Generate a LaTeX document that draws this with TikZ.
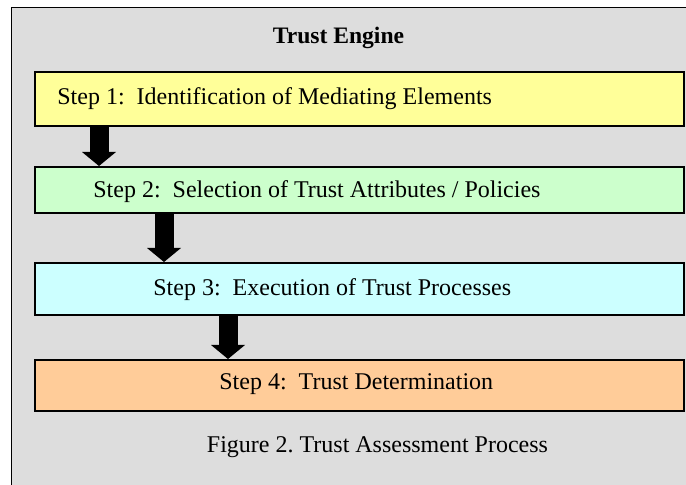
\documentclass[tikz,border=0pt]{standalone}
\usepackage{fontspec}
\setmainfont{Liberation Serif}
\usepackage{tikz}
\usetikzlibrary{arrows.meta,positioning}

\definecolor{panelgray}{HTML}{DDDDDD}
\definecolor{stepyellow}{HTML}{FFFF99}
\definecolor{stepgreen}{HTML}{CCFFCC}
\definecolor{stepcyan}{HTML}{CCFFFF}
\definecolor{steporange}{HTML}{FFCC99}

\tikzset{
  stepbox/.style={draw=black, line width=1pt, minimum width=324.5pt, inner sep=0pt},
  steptext/.style={anchor=west, inner sep=0pt, font=\fontsize{12}{14}\selectfont},
  flow/.style={line width=9.5pt, -{Triangle[length=7pt,width=17pt,line width=0pt]}},
}

\begin{document}
\begin{tikzpicture}[x=0.5pt,y=-0.5pt]
  \useasboundingbox (0,0) rectangle (686,485);
  % grey panel, only its top and left edges are in view
  \fill[white] (0,0) rectangle (686,485);
  \fill[panelgray] (11.5,7.5) rectangle (686,485);
  \draw[line width=0.8pt] (11.5,485) -- (11.5,7.5) -- (686,7.5);
  \node[font=\bfseries\fontsize{11.8}{14}\selectfont] (title) at (338.5,38) {Trust Engine};

  % the four steps (boxes, then their texts)
  \node[stepbox, fill=stepyellow, minimum height=27pt] (step1) at (359.5,99) {};
  \node[stepbox, fill=stepgreen, minimum height=23pt] (step2) at (359.5,190) {};
  \node[stepbox, fill=stepcyan, minimum height=26pt] (step3) at (359.5,289) {};
  \node[stepbox, fill=steporange, minimum height=25.5pt] (step4) at (359.5,385.5) {};
  \node[steptext] (text1) at (57,98.5) {Step 1:\ \ Identification of Mediating Elements};
  \node[steptext] (text2) at (93,192) {Step 2:\ \ Selection of Trust Attributes / Policies};
  \node[steptext] (text3) at (153,290) {Step 3:\ \ Execution of Trust Processes};
  \node[steptext] (text4) at (219,384.5) {Step 4:\ \ Trust Determination};

  % block arrows between the steps
  \coordinate (a1) at (99,0);
  \coordinate (a2) at (164,0);
  \coordinate (a3) at (228,0);
  \draw[flow] (step1.south -| a1) -- (step2.north -| a1);
  \draw[flow] (step2.south -| a2) -- (step3.north -| a2);
  \draw[flow] (step3.south -| a3) -- (step4.north -| a3);

  \node[font=\fontsize{12}{14}\selectfont] (caption) at (377.5,447) {Figure 2.\ Trust Assessment Process};
\end{tikzpicture}
\end{document}
